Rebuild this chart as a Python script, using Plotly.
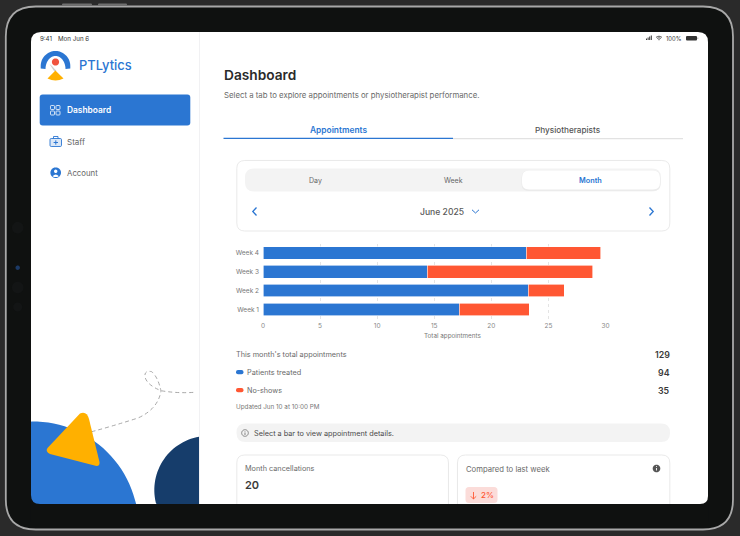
import numpy as np
import plotly.graph_objects as go

# ---------- data ----------
weeks = ["Week 1", "Week 2", "Week 3", "Week 4"]
patients_treated = [17.2, 23.25, 14.4, 23.05]
no_shows = [6.1, 3.15, 14.5, 6.55]
x_ticks = [0, 5, 10, 15, 20, 25, 30]

W, H = 740, 536
BLUE, RED = "#2b76d2", "#ff5733"
FONT = "Inter"


def X(v):
    return v / W


def Y(v):
    return 1 - v / H


shapes, notes = [], []


def P(d):
    """Path given in page pixels: tokens are letters and x,y pairs."""
    out, is_x = [], True
    for t in d.split():
        if t.isalpha():
            out.append(t)
            is_x = True
        else:
            out.append(f"{X(float(t)):.5f}" if is_x else f"{Y(float(t)):.5f}")
            is_x = not is_x
    s = ""
    i = 0
    while i < len(out):
        if out[i].isalpha():
            s += out[i]
            i += 1
            first = True
        else:
            s += ("" if first else " ") + out[i] + "," + out[i + 1]
            first = False
            i += 2
    return s


def path(d, fill=None, line=None, w=1, dash=None):
    ln = dict(color=line or "rgba(0,0,0,0)", width=w if line else 0)
    if dash:
        ln["dash"] = dash
    shapes.append(dict(type="path", xref="paper", yref="paper", path=P(d),
                       fillcolor=fill or "rgba(0,0,0,0)", line=ln, layer="below"))


def rrect(x0, y0, x1, y1, r, fill=None, line=None, w=1):
    path(f"M {x0+r} {y0} L {x1-r} {y0} Q {x1} {y0} {x1} {y0+r} L {x1} {y1-r} Q {x1} {y1} {x1-r} {y1} "
         f"L {x0+r} {y1} Q {x0} {y1} {x0} {y1-r} L {x0} {y0+r} Q {x0} {y0} {x0+r} {y0} Z", fill, line, w)


def poly(pts, fill=None, line=None, w=1, close=True, dash=None):
    d = "M " + " L ".join(f"{a:.2f} {b:.2f}" for a, b in pts) + (" Z" if close else "")
    path(d, fill, line, w, dash)


def circle(cx, cy, r, fill=None, line=None, w=1, clipx=None, clipy=None):
    t = np.linspace(0, 2 * np.pi, 120)
    xs, ys = cx + r * np.cos(t), cy + r * np.sin(t)
    if clipx is not None:
        xs = np.clip(xs, clipx[0], clipx[1])
    if clipy is not None:
        ys = np.clip(ys, clipy[0], clipy[1])
    poly(list(zip(xs, ys)), fill, line, w)


def text(x, y, s, size=7, color="#555", anchor="left", weight=400):
    shift = {"left": -2, "right": 2, "center": 0}[anchor]
    notes.append(dict(xref="paper", yref="paper", x=X(x), y=Y(y), text=s, showarrow=False,
                      xanchor=anchor, yanchor="middle", align=anchor, xshift=shift,
                      font=dict(size=size, color=color, family=FONT, weight=weight)))


FRAME = "#0f1110"
# device
rrect(5.8, 6.5, 733, 529.5, 30, FRAME, "#a8a8a8", 1.8)
rrect(62, 3.6, 92, 6, 1, "#6f6f6f")
rrect(98, 3.6, 127, 6, 1, "#6f6f6f")
circle(17.7, 227.7, 5.8, "#131515")
circle(17.7, 267.7, 2.2, "#1c3a66")
circle(17.7, 287.5, 5.8, "#131515")
circle(17.7, 307, 4.5, "#131515")
rrect(31, 32, 708, 520, 10, "#ffffff")

# sidebar decoration
path("M 199 32 L 200 32 L 200 504 L 199 504 Z", "#f1f1f3")
circle(33, 527, 105.5, BLUE, clipx=(31, 199), clipy=(0, 504))
circle(208.4, 490, 54.1, "#163d6b", clipx=(0, 199), clipy=(0, 504))
path("M 31 504 L 40 504 Q 31 504 31 495 Z", FRAME)
path("M 91.7 431.7 Q 113 426 138 418 Q 158 409 161 391 Q 158 377 151.7 371.7 Q 144 370 145 377 "
     "Q 147 385 161 390.7 Q 177 393.5 195 392.3", None, "#a9a9a9", 1, "4px,3px")
path("M 80 413.5 Q 84 411.5 87 414.5 Q 88.5 417 89 419 L 99.5 462 Q 100 466.5 95.5 465.8 L 50 454 "
     "Q 45 451.5 47.5 448 Z", "#ffb000")

# logo
t = np.linspace(np.pi, 2 * np.pi, 40)
outer = [(55.5 + 14.8 * np.cos(a), 66 + 15 * np.sin(a)) for a in t]
inner = [(55.5 + 10 * np.cos(a), 69 + 13 * np.sin(a)) for a in t[::-1]]
poly(outer + [(70.3, 68.5)] + inner[:1] + inner + [(40.7, 68.5)], BLUE)
poly([(49.5, 64), (52, 66), (56.5, 71), (54, 71)], "#cfcfcf")
circle(55.5, 62, 3.6, "#f0533e")
path("M 55.4 70.5 L 63.5 78.5 Q 55.5 82.5 47.5 78.5 Z", "#ffb000")
text(78.5, 65.5, "PTLytics", 12.9, BLUE, weight=500)

# status bar
text(40, 38, "9:41", 6.2, "#333")
text(58, 38, "Mon Jun 6", 6.2, "#333")
text(666, 38, "100%", 5.8, "#333")
for i, h in enumerate([1.5, 2.5, 3.5, 4.5]):
    rrect(646 + i * 1.6, 40 - h, 647 + i * 1.6, 40, 0.2, "#333")
path("M 656 37.3 Q 659 35 662 37.3 M 657.2 38.5 Q 659 37 660.8 38.5", None, "#333", 0.8)
circle(659, 39.7, 0.6, "#333")
rrect(686, 36, 697, 40.5, 1, "#333")
rrect(697.6, 37.4, 698.2, 39, 0.2, "#777")

# nav
rrect(39.7, 94.5, 190.3, 125.5, 3, BLUE)
for a, b in [(50.5, 105.5), (56, 105.5), (50.5, 111), (56, 111)]:
    rrect(a, b, a + 4, b + 4, 0.8, None, "#ffffff", 0.8)
text(67, 110.3, "Dashboard", 8.4, "#ffffff", weight=600)
rrect(50, 138.5, 61.5, 146.5, 1.2, "#dce8f7", BLUE, 0.9)
path("M 53.5 138.5 L 53.5 136.5 L 58 136.5 L 58 138.5", None, BLUE, 0.9)
path("M 55.8 140.3 L 55.8 144.7 M 53.6 142.5 L 58 142.5", None, BLUE, 1)
text(67, 141.7, "Staff", 8, "#666")
circle(55.7, 172.7, 5.3, BLUE)
circle(55.7, 171.3, 1.7, "#ffffff")
path("M 52.5 176.2 Q 55.7 172.6 58.9 176.2 Q 55.7 178 52.5 176.2 Z", "#ffffff")
text(67, 173.2, "Account", 7.8, "#666")

# header
text(223.5, 75, "Dashboard", 13.7, "#2a2a2a", weight=600)
text(223.5, 95, "Select a tab to explore appointments or physiotherapist performance.", 7.8, "#6a6a6a")
text(338, 130.3, "Appointments", 8.4, BLUE, "center", 600)
text(568, 130.3, "Physiotherapists", 8.2, "#555", "center", 500)
path("M 453 138.6 L 683 138.6", None, "#e2e2e2", 1.4)
path("M 223.5 138.4 L 453 138.4", None, BLUE, 1.4)

# control card
rrect(236.8, 160.5, 669.8, 231, 8, "#ffffff", "#e5e5e5", 0.8)
rrect(245, 168.5, 661, 191.5, 9, "#f3f3f3")
rrect(521.5, 170.5, 660.5, 191, 7, "#ebebeb")
rrect(522, 170.5, 660, 189.5, 7, "#ffffff")
text(315.5, 180.3, "Day", 7, "#666", "center")
text(453, 180.3, "Week", 7, "#666", "center")
text(590.5, 180.3, "Month", 7.3, BLUE, "center", 600)
path("M 256.5 207.5 L 252.8 211.5 L 256.5 215.5", None, BLUE, 1.3)
path("M 649.5 207.5 L 653.2 211.5 L 649.5 215.5", None, BLUE, 1.3)
path("M 472 209.8 L 475.5 213 L 479 209.8", None, BLUE, 1)
text(442.3, 211.5, "June 2025", 8.6, "#5a5a5a", "center", 500)

# summary
text(236, 354.7, "This month's total appointments", 7.3, "#6a6a6a")
text(669.5, 354.7, "129", 8.8, "#3a3a3a", "right", 600)
rrect(236, 370, 243.5, 374.3, 2, BLUE)
text(246.8, 372.3, "Patients treated", 7.3, "#6a6a6a")
text(669.5, 372.5, "94", 8.8, "#3a3a3a", "right", 600)
rrect(236, 388, 243.5, 392.3, 2, RED)
text(246.8, 390.3, "No-shows", 7.2, "#6a6a6a")
text(669.5, 390.5, "35", 8.8, "#3a3a3a", "right", 600)
text(236, 406.5, "Updated Jun 10 at 10:00 PM", 6.3, "#777")

rrect(236.5, 423.5, 670, 442, 9, "#f3f3f3")
circle(245, 433, 3.3, None, "#555", 0.7)
path("M 245 432.5 L 245 435 M 245 431 L 245 431.6", None, "#555", 0.7)
text(253.5, 433, "Select a bar to view appointment details.", 7.3, "#4a4a4a")

# lower cards
rrect(236.8, 455, 448.5, 518, 8, "#ffffff", "#e3e3e3", 0.8)
rrect(457.5, 455, 669.8, 518, 8, "#ffffff", "#e3e3e3", 0.8)
text(245, 468.5, "Month cancellations", 7.3, "#6a6a6a")
text(245, 485, "20", 11, "#3a3a3a", weight=600)
text(465.7, 469, "Compared to last week", 7.7, "#6a6a6a")
circle(656.5, 468.5, 3.8, "#555")
path("M 656.5 468 L 656.5 470.5 M 656.5 466 L 656.5 466.9", None, "#ffffff", 0.9)
rrect(465.5, 487, 497.5, 503, 3.5, "#fbdcd9")
path("M 473.5 492 L 473.5 499 M 470.8 496.3 L 473.5 499 L 476.2 496.3", None, RED, 0.9)
text(480.5, 495, "2%", 8, RED, weight=500)

# bottom of bezel, hides what runs past the screen
path("M 30.5 504 L 708.5 504 L 708.5 522 L 30.5 522 Z", FRAME)
path("M 700 504 L 708 504 L 708 496 Q 708 504 700 504 Z", FRAME)

# the reference centres this title off the axis middle, so it is placed by hand
text(453, 336, "Total appointments", 6.3, "#777777", "center")

fig = go.Figure()
fig.add_bar(y=weeks, x=patients_treated, orientation="h", name="Patients treated",
            marker=dict(color=BLUE, line=dict(color="#ffffff", width=0.6)))
fig.add_bar(y=weeks, x=no_shows, orientation="h", name="No-shows",
            marker=dict(color=RED, line=dict(color="#ffffff", width=0.6)))

fig.update_layout(
    width=W, height=H, margin=dict(l=0, r=0, t=0, b=0), autosize=False,
    paper_bgcolor="#2a2a2a", plot_bgcolor="rgba(0,0,0,0)",
    barmode="stack", bargap=0.32, showlegend=False,
    font=dict(family=FONT, color="#888888", size=6.5),
    shapes=shapes, annotations=notes,
    xaxis=dict(domain=[X(263), X(605.5)], range=[0, 30], tickvals=x_ticks, showgrid=True,
               gridcolor="#e4e4e4", griddash="dot", gridwidth=0.7, zeroline=False, showline=False,
               automargin=False, ticks="", tickfont=dict(size=6.5, color="#888888"), ticklabelstandoff=2),
    yaxis=dict(domain=[Y(318.8), Y(243.6)], showgrid=False, zeroline=False, showline=False, ticks="",
               automargin=False, tickfont=dict(size=6.5, color="#777777"), ticklabelstandoff=3),
)

fig.write_html("out.html", config=dict(displayModeBar=False),
               post_script="document.body.style.margin='0';document.body.style.overflow='hidden';")
